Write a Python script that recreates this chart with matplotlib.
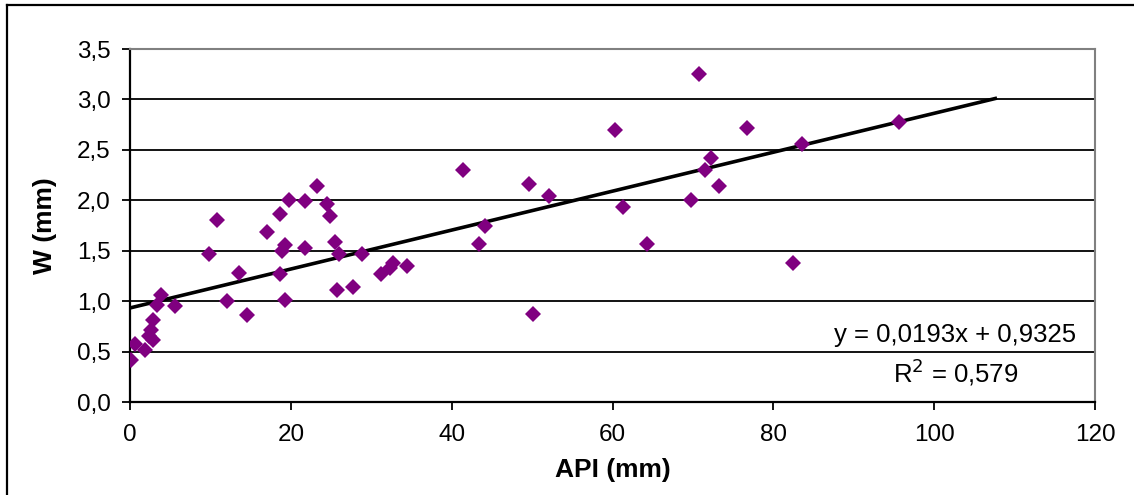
import matplotlib
matplotlib.use("Agg")
import matplotlib.pyplot as plt
from matplotlib.lines import Line2D
import numpy as np

plt.rcParams['font.family'] = ['Liberation Sans', 'DejaVu Sans']

# Data
api = [0.1, 0.6, 1.9, 2.6, 2.4, 2.8, 2.8, 3.4, 3.8, 5.6,
       9.8, 10.8, 12.0, 13.6, 14.5, 17.0, 18.7, 19.8, 18.7, 19.3,
       18.9, 19.3, 21.8, 21.8, 23.3, 24.5, 24.9, 25.5, 26.0, 25.8,
       27.7, 28.9, 31.2, 32.3, 32.7, 34.4, 41.4, 43.4, 44.1, 49.6,
       50.1, 52.1, 60.3, 61.3, 64.3, 69.7, 70.8, 71.5, 72.2, 73.2,
       76.7, 82.4, 83.6, 95.6]
w = [0.42, 0.58, 0.515, 0.71, 0.65, 0.615, 0.81, 0.96, 1.06, 0.95,
     1.47, 1.80, 1.00, 1.28, 0.86, 1.69, 1.86, 2.00, 1.27, 1.56,
     1.50, 1.01, 1.99, 1.53, 2.145, 1.96, 1.845, 1.59, 1.47, 1.11,
     1.14, 1.47, 1.27, 1.325, 1.375, 1.35, 2.30, 1.57, 1.745, 2.16,
     0.87, 2.04, 2.70, 1.93, 1.57, 2.00, 3.25, 2.30, 2.42, 2.145,
     2.72, 1.375, 2.56, 2.78]

slope = 0.0193
intercept = 0.9325
trend_x = [0, 107.6]
equation_text = "y = 0,0193x + 0,9325"
r2_text = "R$^2$ = 0,579"

x_ticks = [0, 20, 40, 60, 80, 100, 120]
y_ticks = [0.0, 0.5, 1.0, 1.5, 2.0, 2.5, 3.0, 3.5]
y_tick_labels = ["0,0", "0,5", "1,0", "1,5", "2,0", "2,5", "3,0", "3,5"]

W, H = 1134, 495
fig = plt.figure(figsize=(W / 100, H / 100), dpi=100)
ax = fig.add_axes([130 / W, 1 - 402 / H, (1095 - 130) / W, (402 - 49) / H])

# gridlines
for yv in y_ticks[1:-1]:
    ax.axhline(yv, color='black', lw=1.3, zorder=1)

tx = np.array(trend_x)
ax.plot(tx, slope * tx + intercept, color='black', lw=2.6, zorder=3)

ax.plot(api, w, linestyle='none', marker='D', markersize=7.8,
        color='#800080', markeredgewidth=0, zorder=4)

ax.set_xlim(0, 120)
ax.set_ylim(0, 3.5)
ax.set_xticks(x_ticks)
ax.set_xticklabels([str(v) for v in x_ticks])
ax.set_yticks(y_ticks)
ax.set_yticklabels(y_tick_labels)
ax.tick_params(direction='out', length=6, width=1.3, labelsize=17.5,
               colors='black')
ax.tick_params(axis='x', pad=10)
ax.tick_params(axis='y', pad=8)

for side in ['left', 'bottom']:
    ax.spines[side].set_color('black')
    ax.spines[side].set_linewidth(1.6)
for side in ['top', 'right']:
    ax.spines[side].set_color('#808080')
    ax.spines[side].set_linewidth(1.5)

ax.set_ylabel("W (mm)", fontsize=19, fontweight='bold', va='center')
ax.yaxis.set_label_coords((45 - 130) / 965, 0.5)
ax.set_xlabel("API (mm)", fontsize=19, fontweight='bold', va='center')
ax.xaxis.set_label_coords(0.5, (402 - 470) / 353)

ax.text((955 - 130) / 965, (402 - 335) / 353, equation_text,
        transform=ax.transAxes, ha='center', va='center', fontsize=18.5)
ax.text((956 - 130) / 965, (402 - 372) / 353, r2_text,
        transform=ax.transAxes, ha='center', va='center', fontsize=18.5)

# outer chart border (top and left visible)
fig.add_artist(Line2D([7 / W, 1.0], [1 - 5 / H, 1 - 5 / H], color='black',
                      lw=1.6, transform=fig.transFigure))
fig.add_artist(Line2D([7 / W, 7 / W], [1 - 5 / H, 0.0], color='black',
                      lw=1.6, transform=fig.transFigure))

fig.savefig("out.png", dpi=100)
